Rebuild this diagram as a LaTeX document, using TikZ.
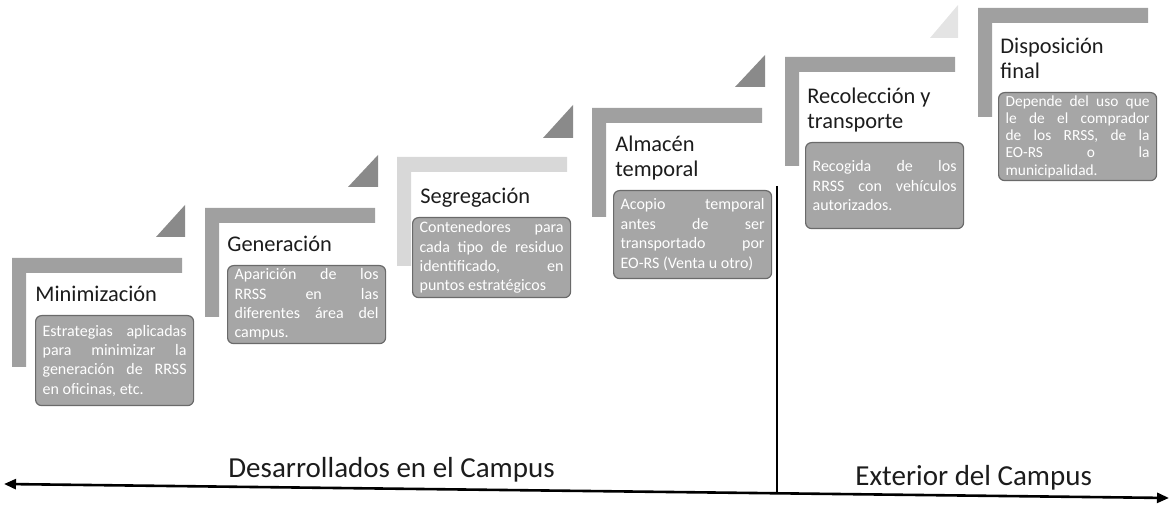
\documentclass[tikz,border=0pt]{standalone}
\usepackage{fontspec}
\setmainfont{Carlito}
\usetikzlibrary{arrows.meta}
\definecolor{bargray}{HTML}{A0A0A0}
\definecolor{trigray}{HTML}{8A8A8A}
\definecolor{lightbar}{HTML}{D8D8D8}
\definecolor{lighttri}{HTML}{E4E4E4}
\definecolor{boxfill}{HTML}{A6A6A6}
\definecolor{boxdraw}{HTML}{6A6A6A}
\definecolor{titlecol}{HTML}{1C1C1C}
\newcommand\stepL[3]{\fill[#3] (#1,#2) -- ++(170,0) -- ++(0,15) -- ++(-156,0) -- ++(0,94) -- ++(-14,0) -- cycle;}
\newcommand\boxsetup{\tolerance=10000\relax\hyphenpenalty=10000\relax\emergencystretch=0pt\relax}
\begin{document}
\begin{tikzpicture}[x=0.5pt,y=-0.5pt,
  title/.style={anchor=base west, inner sep=0pt, align=left, text=titlecol,
    font=\fontsize{11.2}{12.6}\selectfont},
  desc/.style={anchor=north west, draw=boxdraw, fill=boxfill, rounded corners=3pt,
    line width=0.6pt, text=white, inner xsep=3.5pt, inner ysep=0pt,
    text width=72pt, align=justify,
    font=\fontsize{8}{9.7}\selectfont\boxsetup},
  label/.style={anchor=base west, inner sep=0pt, text=titlecol,
    font=\fontsize{14.5}{16}\selectfont},
  axisline/.style={line width=1.3pt, {Triangle[length=6pt,width=5pt]}-{Triangle[length=6pt,width=5pt]}},
  divider/.style={line width=1pt}
  ]
\useasboundingbox (0,0) rectangle (1173,528);

% L-shaped step bars
\stepL{12}{258}{bargray}
\stepL{205}{208}{bargray}
\stepL{397}{157}{lightbar}
\stepL{592}{108}{bargray}
\stepL{785}{57}{bargray}
\stepL{978}{8}{bargray}

% small triangles
\fill[trigray] (185,205) -- (185,237) -- (156,237) -- cycle;
\fill[trigray] (378,155) -- (378,187) -- (348,187) -- cycle;
\fill[trigray] (573,105) -- (573,138) -- (543,138) -- cycle;
\fill[trigray] (765,55) -- (765,87) -- (735,87) -- cycle;
\fill[lighttri] (958,5) -- (958,38) -- (930,38) -- cycle;

% titles
\node[title] (t1) at (35,302) {Minimización};
\node[title] (t2) at (227,252) {Generación};
\node[title] (t3) at (420,204) {Segregación};
\node[title] (t4) at (615,177) {Almacén\\temporal};
\node[title] (t5) at (807,129) {Recolección y\\transporte};
\node[title] (t6) at (1000,79) {Disposición\\final};

% description boxes
\node[desc, minimum height=45pt] (b1) at (35,315) {Estrategias aplicadas\linebreak para minimizar la\linebreak generación de RRSS\linebreak en oficinas, etc.};
\node[desc, minimum height=39pt] (b2) at (227,265) {Aparición de los\linebreak RRSS en las\linebreak diferentes área del\linebreak campus.};
\node[desc, minimum height=40pt] (b3) at (412,217) {Contenedores para\linebreak cada tipo de residuo\linebreak identificado, en\linebreak puntos estratégicos};
\node[desc, minimum height=44pt] (b4) at (613,190) {Acopio temporal\linebreak antes de ser\linebreak transportado por\linebreak EO-RS (Venta u otro)};
\node[desc, minimum height=43pt] (b5) at (805,142) {Recogida de los\linebreak RRSS con vehículos\linebreak autorizados.};
\node[desc, minimum height=44pt, font=\fontsize{7.7}{8.6}\selectfont\boxsetup] (b6) at (998,92) {Depende del uso que\linebreak le de el comprador\linebreak de los RRSS, de la\linebreak EO-RS o la\linebreak municipalidad.};

% bottom labels
\node[label] (l1) at (228,478) {Desarrollados en el Campus};
\node[label] (l2) at (855,486) {Exterior del Campus};

% axis and divider
\coordinate (axl) at (4,484);
\coordinate (axr) at (1169,498);
\coordinate (divtop) at (777,186);
\coordinate (divbot) at (777,493);
\draw[divider] (divtop) -- (divbot);
\draw[axisline] (axl) -- (axr);
\end{tikzpicture}
\end{document}
